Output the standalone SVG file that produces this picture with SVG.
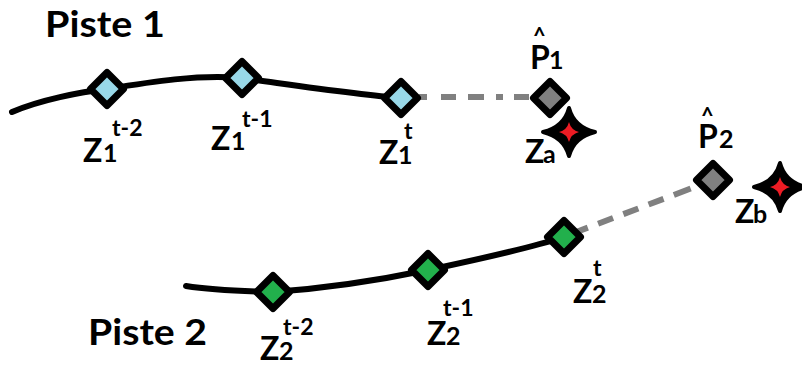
<svg xmlns="http://www.w3.org/2000/svg" width="802" height="370" viewBox="0 0 802 370">
<defs>
<style>
text{font-family:Lato,"Open Sans","Liberation Sans",sans-serif;font-weight:bold;fill:#000}
.title{font-size:36px}
.z{font-size:32px}
.sub{font-size:25px}
.sup{font-size:23px}
.hat{font-size:22px}
.track{fill:none;stroke:#000;stroke-width:6;stroke-linecap:round}
.dash{fill:none;stroke:#808080;stroke-width:6}
.node{stroke:#000;stroke-width:7;stroke-linejoin:round}
.blue{fill:#98d8e8}
.green{fill:#22b04c}
.gray{fill:#808080}
</style>
<path id="dia" d="M0,-16.5 L16.5,0 L0,16.5 L-16.5,0 Z"/>
<path id="star" d="M0,-24 Q5,-5 26,0 Q5,5 0,24 Q-5,5 -26,0 Q-5,-5 0,-24 Z" fill="#000" stroke="#000" stroke-width="4" stroke-linejoin="round"/>
<path id="rstar" d="M0,-10 Q2,-2 10,0 Q2,2 0,10 Q-2,2 -10,0 Q-2,-2 0,-10 Z" fill="#ed1c24"/>
</defs>

<g id="connectors">
<path class="track" d="M12,112 C40,100 80,92 107,89 C150,82 200,74 241,78 C300,86 360,95 401,98"/>
<path class="track" d="M186,286 C205,289 235,291 273,292 C330,288 380,280 428,270 C480,259 530,248 564,237"/>
<path class="dash" d="M419,97 L531,97" stroke-dasharray="8 14 15 12 16 12 7 11 15"/>
<path class="dash" d="M571,234 L700,185" stroke-dasharray="18 11 16 11 16 11 16 11"/>
</g>

<g id="label-piste1"><text class="title" x="45" y="37" textLength="120" lengthAdjust="spacingAndGlyphs">Piste 1</text></g>
<g id="label-piste2"><text class="title" x="88" y="345" textLength="119" lengthAdjust="spacingAndGlyphs">Piste 2</text></g>

<g id="z1-t2">
<use href="#dia" class="node blue" x="107" y="89"/>
<text class="z" x="83" y="162">Z</text><text class="sub" x="103" y="162">1</text><text class="sup" x="112" y="136">t-2</text>
</g>
<g id="z1-t1">
<use href="#dia" class="node blue" x="242" y="78"/>
<text class="z" x="211" y="150">Z</text><text class="sub" x="231" y="150">1</text><text class="sup" x="242" y="127">t-1</text>
</g>
<g id="z1-t">
<use href="#dia" class="node blue" x="401" y="98"/>
<text class="z" x="379" y="164">Z</text><text class="sub" x="398" y="164">1</text><text class="sup" x="404" y="139">t</text>
</g>

<g id="p1">
<use href="#dia" class="node gray" x="550" y="98"/>
<text class="hat" x="533" y="44">^</text>
<text class="z" x="530" y="69">P</text><text class="sub" x="549" y="69">1</text>
</g>
<g id="za">
<use href="#star" x="569" y="132"/>
<use href="#rstar" x="569" y="132"/>
<text class="z" x="525" y="163">Z</text><text class="sub" x="543" y="163">a</text>
</g>

<g id="z2-t2">
<use href="#dia" class="node green" x="273" y="292"/>
<text class="z" x="260" y="360">Z</text><text class="sub" x="279" y="360">2</text><text class="sup" x="283" y="335">t-2</text>
</g>
<g id="z2-t1">
<use href="#dia" class="node green" x="428" y="270"/>
<text class="z" x="427" y="345">Z</text><text class="sub" x="446" y="345">2</text><text class="sup" x="443" y="316">t-1</text>
</g>
<g id="z2-t">
<use href="#dia" class="node green" x="564" y="237"/>
<text class="z" x="573" y="303">Z</text><text class="sub" x="592" y="303">2</text><text class="sup" x="593" y="276">t</text>
</g>

<g id="p2">
<use href="#dia" class="node gray" x="713" y="180"/>
<text class="hat" x="701" y="124">^</text>
<text class="z" x="698" y="148">P</text><text class="sub" x="719" y="148">2</text>
</g>
<g id="zb">
<use href="#star" x="780" y="187"/>
<use href="#rstar" x="780" y="187"/>
<text class="z" x="735" y="223">Z</text><text class="sub" x="753" y="223">b</text>
</g>
</svg>
